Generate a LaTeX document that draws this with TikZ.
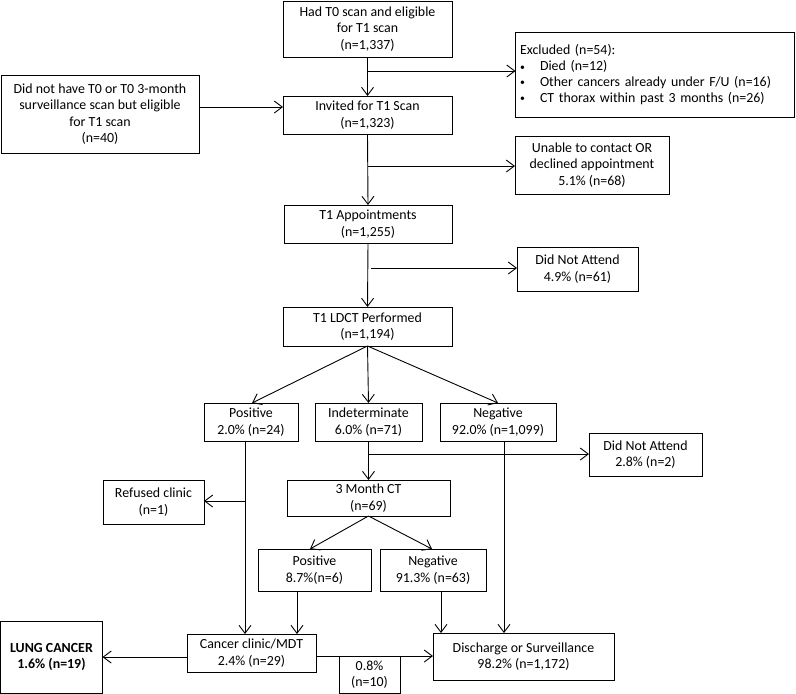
\documentclass[tikz,border=0pt]{standalone}
\usepackage{fontspec}
\setmainfont{Carlito}
\usetikzlibrary{arrows.meta,calc}
\newcommand{\bul}{\makebox[20pt][l]{\raisebox{0.5pt}{\scalebox{0.7}{\textbullet}}}}
\begin{document}
\begin{tikzpicture}[x=1pt,y=-1pt,
  box/.style={draw,line width=0.9pt,inner sep=0pt,outer sep=0pt,align=center,
    font=\fontsize{13.9}{16.5}\selectfont},
  arr/.style={line width=0.9pt,-{Straight Barb[length=8pt,width=12pt,line width=0.9pt]}},
  ln/.style={line width=0.9pt}]
\useasboundingbox (0,0) rectangle (796,694);
\node[box,minimum width=169pt,minimum height=56pt] (top) at (367.5,29) {Had T0 scan and eligible\\for T1 scan\\(n=1,337)};
\node[box,minimum width=279pt,minimum height=85pt,align=left,text width=270pt,font=\fontsize{13.9}{15.7}\selectfont] (excl) at (655,74.5) {Excluded (n=54):\\\bul Died (n=12)\\\bul Other cancers already under F/U (n=16)\\\bul CT thorax within past 3 months (n=26)};
\node[box,minimum width=198pt,minimum height=78pt] (left) at (100,114) {Did not have T0 or T0 3-month\\surveillance scan but eligible\\for T1 scan\\(n=40)};
\node[box,minimum width=169pt,minimum height=38pt] (inv) at (367.5,115) {Invited for T1 Scan\\(n=1,323)};
\node[box,minimum width=154pt,minimum height=58pt] (unable) at (592,165) {Unable to contact OR\\declined appointment\\5.1\% (n=68)};
\node[box,minimum width=168pt,minimum height=38pt] (appt) at (368,224) {T1 Appointments\\(n=1,255)};
\node[box,minimum width=121pt,minimum height=44pt] (dna1) at (577.5,269) {Did Not Attend\\4.9\% (n=61)};
\node[box,minimum width=169pt,minimum height=39pt] (ldct) at (367.5,326.5) {T1 LDCT Performed\\(n=1,194)};
\node[box,minimum width=94pt,minimum height=38pt] (pos) at (251,422) {Positive\\2.0\% (n=24)};
\node[box,minimum width=107pt,minimum height=38pt] (ind) at (368.5,422) {Indeterminate\\6.0\% (n=71)};
\node[box,minimum width=116pt,minimum height=38pt] (neg) at (498,422) {Negative\\92.0\% (n=1,099)};
\node[box,minimum width=113pt,minimum height=43pt] (dna2) at (645.5,454.5) {Did Not Attend\\2.8\% (n=2)};
\node[box,minimum width=163pt,minimum height=36pt] (ct3) at (368.5,498) {3 Month CT\\(n=69)};
\node[box,minimum width=101pt,minimum height=44pt] (ref) at (153.5,502) {Refused clinic\\(n=1)};
\node[box,minimum width=113pt,minimum height=42pt] (pos2) at (314.5,570) {Positive\\8.7\%(n=6)};
\node[box,minimum width=106pt,minimum height=42pt] (neg2) at (433,570) {Negative\\91.3\% (n=63)};
\node[box,minimum width=129pt,minimum height=38pt] (clinic) at (251.5,653) {Cancer clinic/MDT\\2.4\% (n=29)};
\node[box,minimum width=102pt,minimum height=72pt,font=\fontsize{13.9}{16.5}\selectfont\bfseries] (lung) at (51.5,657) {LUNG CANCER\\1.6\% (n=19)};
\node[box,minimum width=61pt,minimum height=37pt] (pct) at (369.5,674.5) {0.8\%\\(n=10)};
\node[box,minimum width=181pt,minimum height=47pt] (disch) at (523.5,656.5) {Discharge or Surveillance\\98.2\% (n=1,172)};
% main spine
\draw[arr] (top.south) -- (inv.north);
\coordinate (e1) at (368,71);
\draw[arr] (e1) -- (e1 -| excl.west);
\coordinate (l1) at (199,107);
\draw[arr] (l1) -- (l1 -| inv.west);
\draw[arr] (inv.south) -- (appt.north);
\coordinate (e2) at (368,166);
\draw[arr] (e2) -- (e2 -| unable.west);
\draw[arr] (appt.south) -- (ldct.north);
\coordinate (e3) at (371,268);
\draw[arr] (e3) -- (e3 -| dna1.west);
% split
\coordinate (pt) at (252,403);
\coordinate (nt) at (498,403);
\draw[arr] (ldct.south) -- (pt);
\draw[arr] (ldct.south) -- (ind.north);
\draw[arr] (ldct.south) -- (nt);
% positive
\coordinate (p1) at (245,441);
\draw[arr] (p1) -- (p1 |- clinic.north);
\coordinate (p2) at (245,501);
\draw[arr] (p2) -- (p2 -| ref.east);
% indeterminate
\draw[arr] (ind.south) -- (ct3.north);
\coordinate (i1) at (368,454);
\draw[arr] (i1) -- (i1 -| dna2.west);
% negative
\coordinate (n1) at (504,441);
\draw[arr] (n1) -- (n1 |- disch.north);
% 3 month
\coordinate (q1) at (310,549);
\coordinate (q2) at (432,549);
\draw[arr] (ct3.south) -- (q1);
\draw[arr] (ct3.south) -- (q2);
\coordinate (q3) at (297,591);
\draw[arr] (q3) -- (q3 |- clinic.north);
\coordinate (q4) at (441,591);
\draw[arr] (q4) -- (q4 |- disch.north);
% bottom
\coordinate (b1) at (187,657);
\draw[arr] (b1) -- (b1 -| lung.east);
\coordinate (b2) at (316,656);
\draw[arr] (b2) -- (b2 -| disch.west);
\end{tikzpicture}
\end{document}
